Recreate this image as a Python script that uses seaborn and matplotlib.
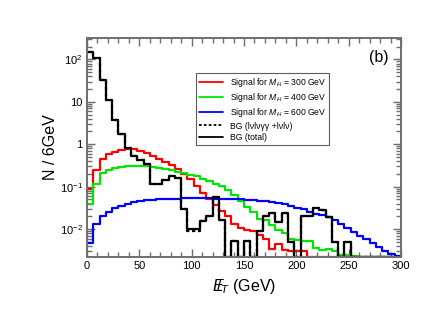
import numpy as np
import pandas as pd
import matplotlib
matplotlib.use("Agg")
import matplotlib.pyplot as plt
from matplotlib.ticker import FixedLocator, FixedFormatter, MultipleLocator, LogLocator, NullFormatter
from matplotlib.lines import Line2D
import seaborn as sns

# ---------------- data (6 GeV bins, 0-300 GeV) ----------------
bin_width = 6
sig300 = [0.09, 0.245, 0.45, 0.58, 0.66, 0.73, 0.78, 0.76, 0.68, 0.61,
          0.54, 0.46, 0.39, 0.33, 0.26, 0.195, 0.15, 0.105, 0.070, 0.052,
          0.038, 0.027, 0.020, 0.0134, 0.0107, 0.0093, 0.0092, 0.0071, 0.0059, 0.0034,
          0.0045, 0.0033, 0.0031, 0.0031, 0.0030, 0, 0, 0, 0, 0,
          0, 0, 0, 0, 0, 0, 0, 0, 0, 0]
sig400 = [0.04, 0.118, 0.21, 0.245, 0.27, 0.29, 0.30, 0.31, 0.31, 0.30,
          0.285, 0.27, 0.26, 0.245, 0.225, 0.21, 0.19, 0.175, 0.155, 0.135,
          0.118, 0.102, 0.085, 0.064, 0.045, 0.033, 0.025, 0.0176, 0.016, 0.0122,
          0.0096, 0.0080, 0.0059, 0.0054, 0.0053, 0.0052, 0.0036, 0.0032, 0.0034, 0.0031,
          0.0024, 0.0024, 0.0023, 0, 0, 0, 0, 0, 0, 0]
sig600 = [0.0046, 0.0134, 0.020, 0.0255, 0.031, 0.036, 0.040, 0.043, 0.046, 0.048,
          0.049, 0.050, 0.051, 0.052, 0.052, 0.053, 0.053, 0.053, 0.053, 0.053,
          0.052, 0.052, 0.051, 0.051, 0.050, 0.049, 0.048, 0.047, 0.045, 0.043,
          0.041, 0.039, 0.036, 0.032, 0.029, 0.026, 0.023, 0.021, 0.019, 0.016,
          0.013, 0.0105, 0.0085, 0.0070, 0.0058, 0.0047, 0.0037, 0.0031, 0.0026, 0.0023]
bg_total = [150, 110, 32, 10.8, 3.7, 1.7, 0.82, 0.52, 0.42, 0.34,
            0.115, 0.115, 0.14, 0.18, 0.16, 0.029, 0.0102, 0.0102, 0.0155, 0.020,
            0.058, 0.016, 0, 0.0053, 0, 0.0053, 0, 0.0092, 0.020, 0.024,
            0.015, 0.024, 0.0049, 0, 0.020, 0.020, 0.032, 0.028, 0.019, 0.0049,
            0, 0.0049, 0, 0, 0, 0, 0, 0, 0, 0]
bg_llgg = [150, 110, 32, 10.8, 3.7, 1.7, 0.82, 0.52, 0.42, 0.34,
           0.115, 0.115, 0.14, 0.18, 0.16, 0.029, 0.0088, 0.0088, 0.0155, 0.020,
           0.058, 0.016, 0, 0.0053, 0, 0.0053, 0, 0.0092, 0.020, 0.024,
           0.015, 0.024, 0.0049, 0, 0.020, 0.020, 0.032, 0.028, 0.019, 0.0049,
           0, 0.0049, 0, 0, 0, 0, 0, 0, 0, 0]

labels = [r"Signal for $M_H$ = 300 GeV", r"Signal for $M_H$ = 400 GeV",
          r"Signal for $M_H$ = 600 GeV", "BG (lνlνγγ +lνlν)", "BG (total)"]
ytick_vals = [1e-2, 1e-1, 1, 10, 100]
ytick_labels = [r"10$^{-2}$", r"10$^{-1}$", "1", "10", r"10$^{2}$"]
xtick_vals = [0, 50, 100, 150, 200, 250, 300]

# ---------------- style ----------------
sns.set_style("ticks")
plt.rcParams["font.family"] = ["Liberation Sans", "DejaVu Sans"]
plt.rcParams["mathtext.fontset"] = "custom"
plt.rcParams["mathtext.rm"] = "Liberation Sans"
plt.rcParams["mathtext.it"] = "Liberation Sans:italic"
plt.rcParams["mathtext.bf"] = "Liberation Sans:bold"
plt.rcParams["text.color"] = "black"
plt.rcParams["axes.labelcolor"] = "black"
plt.rcParams["xtick.labelcolor"] = "black"
plt.rcParams["ytick.labelcolor"] = "black"

YMIN, YMAX = 2.2e-3, 320

fig = plt.figure(figsize=(4.36, 3.16), dpi=100)
ax = fig.add_axes([87 / 436, 1 - 257 / 316, (401 - 87) / 436, (257 - 38) / 316])

nb = len(sig300)
edges = np.arange(nb + 1) * bin_width

def step_df(vals):
    v = np.clip(np.asarray(vals, dtype=float), YMIN, None)
    v = np.append(v, v[-1])
    return pd.DataFrame({"x": edges, "y": v})

series = [
    (sig300, "#ff0000", "-", labels[0]),
    (sig400, "#00e600", "-", labels[1]),
    (sig600, "#0000ff", "-", labels[2]),
    (bg_llgg, "black", (0, (1.5, 1.2)), labels[3]),
    (bg_total, "black", "-", labels[4]),
]
handles = []
for vals, col, ls, lab in series:
    sns.lineplot(data=step_df(vals), x="x", y="y", ax=ax, color=col,
                 linestyle=ls, linewidth=1.6, drawstyle="steps-post",
                 estimator=None, sort=False, legend=False, clip_on=True)
    handles.append(Line2D([], [], color=col, linestyle=ls, linewidth=1.3))

ax.set_yscale("log")
ax.set_xlim(0, 300)
ax.set_ylim(YMIN, YMAX)

ax.xaxis.set_major_locator(FixedLocator(xtick_vals))
ax.xaxis.set_minor_locator(MultipleLocator(10))
ax.yaxis.set_major_locator(FixedLocator(ytick_vals))
ax.yaxis.set_major_formatter(FixedFormatter(ytick_labels))
ax.yaxis.set_minor_locator(LogLocator(base=10, subs=np.arange(2, 10)))
ax.yaxis.set_minor_formatter(NullFormatter())

frame_col = "#6e6e6e"
for s in ax.spines.values():
    s.set_color(frame_col)
    s.set_linewidth(1.4)
    s.set_visible(True)
ax.tick_params(which="both", direction="in", top=True, right=True,
               color=frame_col, labelsize=8, width=1.0, labelcolor="black")
ax.tick_params(which="major", length=6, pad=3)
ax.tick_params(which="minor", length=3.5)

ax.set_xlabel(r"$E\!\!\!/_T$ (GeV)", fontsize=11.5, labelpad=4)
ax.set_ylabel("N / 6GeV", fontsize=11.5, labelpad=1)
ax.text(0.93, 0.913, "(b)", transform=ax.transAxes, fontsize=11.5,
        ha="center", va="center")

leg = ax.legend(handles, labels, loc="upper left", bbox_to_anchor=(0.347, 0.84),
                fontsize=6.2, frameon=True, fancybox=False, handlelength=2.8,
                labelspacing=0.25, borderpad=0.35, handletextpad=0.8,
                borderaxespad=0)
leg.get_frame().set_edgecolor("#333333")
leg.get_frame().set_linewidth(0.8)
for t in leg.get_texts():
    t.set_color("black")

fig.savefig("out.png", dpi=100)
